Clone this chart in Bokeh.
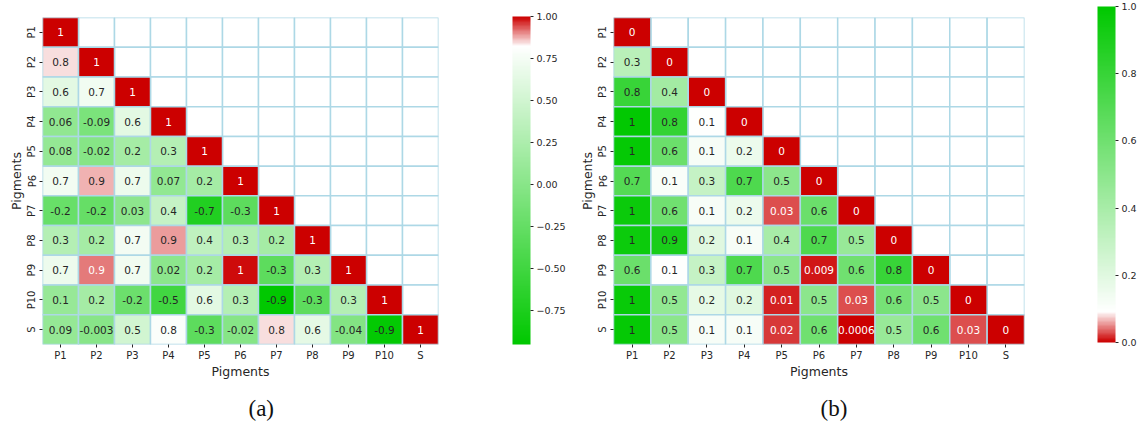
import math
from bokeh.plotting import figure
from bokeh.models import (ColumnDataSource, LinearColorMapper, ColorBar, FixedTicker,
                          CustomJSTickFormatter, Title, FactorRange)
from bokeh.layouts import row
from bokeh.transform import transform
from bokeh.core.properties import value
from bokeh.embed import file_html
from bokeh.resources import INLINE

# ---------------- data ----------------
pigments = ["P1", "P2", "P3", "P4", "P5", "P6", "P7", "P8", "P9", "P10", "S"]

# (a) correlation coefficients, lower triangle (row = y pigment, columns P1..)
corr_a = [
    [1.0],
    [0.845, 1.0],
    [0.63, 0.72, 1.0],
    [0.06, -0.09, 0.63, 1.0],
    [0.08, -0.02, 0.20, 0.30, 1.0],
    [0.73, 0.876, 0.70, 0.07, 0.20, 1.0],
    [-0.22, -0.24, 0.03, 0.42, -0.72, -0.30, 1.0],
    [0.30, 0.20, 0.74, 0.893, 0.38, 0.30, 0.20, 1.0],
    [0.70, 0.916, 0.72, 0.02, 0.20, 0.99, -0.30, 0.30, 1.0],
    [0.10, 0.20, -0.20, -0.50, 0.63, 0.30, -0.94, -0.30, 0.30, 1.0],
    [0.09, -0.003, 0.50, 0.79, -0.30, -0.02, 0.845, 0.64, -0.04, -0.92, 1.0],
]

# (b) p-values, lower triangle
pval_b = [
    [0.0],
    [0.34, 0.0],
    [0.80, 0.42, 0.0],
    [0.99, 0.82, 0.096, 0.0],
    [0.98, 0.62, 0.12, 0.16, 0.0],
    [0.70, 0.11, 0.30, 0.72, 0.50, 0.0],
    [0.96, 0.60, 0.12, 0.16, 0.028, 0.62, 0.0],
    [0.955, 0.91, 0.20, 0.12, 0.40, 0.72, 0.46, 0.0],
    [0.62, 0.096, 0.30, 0.72, 0.50, 0.009, 0.60, 0.80, 0.0],
    [0.97, 0.48, 0.18, 0.20, 0.012, 0.50, 0.03, 0.58, 0.50, 0.0],
    [0.98, 0.50, 0.12, 0.12, 0.020, 0.60, 0.0006, 0.46, 0.60, 0.028, 0.0],
]

range_a = [-0.95, 1.0]
range_b = [0.0, 1.0]
cbar_ticks_a = [-0.75, -0.5, -0.25, 0.0, 0.25, 0.5, 0.75, 1.0]
cbar_ticks_b = [0.0, 0.2, 0.4, 0.6, 0.8, 1.0]
captions = ["(a)", "(b)"]
axis_title = "Pigments"

# ---------------- styling ----------------
GREEN = (0, 200, 0)
RED = (204, 0, 0)
WHITE = (255, 255, 255)
GRID = "#add8e6"
DARK = "#262626"
FONT = "DejaVu Sans"
H = 435


def lerp(c1, c2, t):
    return tuple(int(round(a + (b - a) * t)) for a, b in zip(c1, c2))


def make_palette(white_at, low_col, high_col, n=256):
    cols = []
    for i in range(n):
        f = i / (n - 1)
        if f <= white_at:
            c = lerp(low_col, WHITE, f / white_at)
        else:
            c = lerp(WHITE, high_col, (f - white_at) / (1 - white_at))
        cols.append("#%02x%02x%02x" % c)
    return cols


def luminance(hexc):
    rgb = [int(hexc[k:k + 2], 16) / 255 for k in (1, 3, 5)]
    lin = [c / 12.92 if c <= 0.04045 else ((c + 0.055) / 1.055) ** 2.4 for c in rgb]
    return 0.2126 * lin[0] + 0.7152 * lin[1] + 0.0722 * lin[2]


def heatmap(matrix, vrange, palette, ticks, digits, width,
            b_left, b_right, b_top, b_bottom, cbar_h, cbar_x, cbar_y, caption, cap_offset):
    low, high = vrange
    mapper = LinearColorMapper(palette=palette, low=low, high=high)
    xs, ys, vs, labels, tcs = [], [], [], [], []
    ex, ey = [], []
    n = len(pigments)
    for i in range(n):
        for j in range(n):
            if j <= i:
                v = matrix[i][j]
                xs.append(pigments[j]); ys.append(pigments[i]); vs.append(v)
                labels.append(format(v, ".1g"))
                idx = min(len(palette) - 1, max(0, int((v - low) / (high - low) * len(palette))))
                tcs.append(DARK if luminance(palette[idx]) > 0.408 else "#ffffff")
            else:
                ex.append(pigments[j]); ey.append(pigments[i])
    src = ColumnDataSource(dict(x=xs, y=ys, v=vs, label=labels, tc=tcs))
    esrc = ColumnDataSource(dict(x=ex, y=ey))

    p = figure(x_range=FactorRange(*pigments), y_range=FactorRange(*pigments[::-1]),
               width=width, height=H, output_backend="svg", toolbar_location=None,
               min_border_left=b_left, min_border_right=b_right,
               min_border_top=b_top, min_border_bottom=b_bottom)
    p.outline_line_color = None
    p.grid.visible = False
    p.rect(x="x", y="y", width=1, height=1, source=esrc, fill_color="white",
           line_color=GRID, line_width=1.5)
    p.rect(x="x", y="y", width=1, height=1, source=src, fill_color=transform("v", mapper),
           line_color=GRID, line_width=1.5)
    p.text(x="x", y="y", text="label", source=src, text_color="tc",
           text_align="center", text_baseline="middle",
           text_font=value(FONT), text_font_size="10.5px")

    for ax in (p.xaxis[0], p.yaxis[0]):
        ax.axis_label = axis_title
        ax.axis_label_text_font = FONT
        ax.axis_label_text_font_size = "12.5px"
        ax.axis_label_text_font_style = "normal"
        ax.axis_label_text_color = DARK
        ax.major_label_text_font = FONT
        ax.major_label_text_font_size = "10px"
        ax.major_label_text_color = DARK
        ax.axis_line_color = None
        ax.major_tick_in = 0
        ax.major_tick_out = 3
        ax.major_tick_line_color = DARK
        ax.major_label_standoff = 2
    p.xaxis.axis_label_standoff = 0
    p.yaxis.axis_label_standoff = 0
    p.yaxis.major_label_orientation = "vertical"

    fmt = CustomJSTickFormatter(code="return tick.toFixed(%d).replace('-', '\\u2212');" % digits)
    cb = ColorBar(color_mapper=mapper, ticker=FixedTicker(ticks=ticks), formatter=fmt,
                  width=18, height=cbar_h, location=(cbar_x, cbar_y), padding=0, margin=0,
                  major_tick_in=0, major_tick_out=3, major_tick_line_color=DARK,
                  major_label_text_font=FONT, major_label_text_font_size="9.5px",
                  major_label_text_color=DARK, label_standoff=3,
                  bar_line_color=None, border_line_color=None, background_fill_color=None)
    p.add_layout(cb, "right")

    cap = Title(text=caption, align="left", offset=cap_offset, standoff=24,
                text_font="Liberation Serif", text_font_size="23px",
                text_font_style="normal", text_color="#111111")
    p.add_layout(cap, "below")
    return p


pal_a = make_palette(0.91, GREEN, RED)
pal_b = make_palette(0.09, RED, GREEN)

# panel (a): frame 42..438 x 17..345 ; panel (b): frame 613..1024 x 7..344
p1 = heatmap(corr_a, range_a, pal_a, cbar_ticks_a, 2, 570,
             42, 132, 17, H - 17 - 328, 328, 74, 0, captions[0], 206)
p2 = heatmap(pval_b, range_b, pal_b, cbar_ticks_b, 1, 576,
             43, 122, 7, H - 7 - 337, 336, 73, 2, captions[1], 207)

layout = row(p1, p2)
open("out.html", "w").write(file_html(layout, INLINE))
